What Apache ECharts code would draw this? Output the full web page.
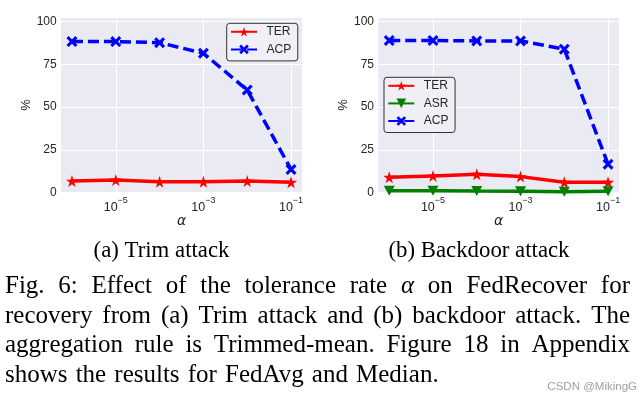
<!DOCTYPE html>
<html><head><meta charset="utf-8">
<script src="https://cdn.jsdelivr.net/npm/echarts@6/dist/echarts.min.js"></script>
<style>html,body{margin:0;padding:0;background:#fff}#c{width:643px;height:403px}</style>
</head><body><div id="c"></div>
<script>
// ---- data ----
const alphaExp = [-6, -5, -4, -3, -2, -1];          // log10(alpha)
const xTickExp = [-5, -3, -1];                       // tick labels 10^-5, 10^-3, 10^-1
const yTickStep = 25;
const trimTER = [6.8, 7.4, 6.4, 6.4, 6.8, 6.1];
const trimACP = [88.3, 88.3, 87.7, 81.5, 60.0, 13.6];
const bdTER = [9.0, 9.8, 10.8, 9.4, 6.1, 6.1];
const bdASR = [1.2, 1.2, 1.0, 0.9, 0.6, 0.9];
const bdACP = [88.9, 88.9, 88.7, 88.7, 83.9, 16.6];
const subCaptions = ['(a) Trim attack', '(b) Backdoor attack'];
const captionLines = [
  ['Fig.', '6:', 'Effect', 'of', 'the', 'tolerance', 'rate', '*α', 'on', 'FedRecover', 'for'],
  ['recovery', 'from', '(a)', 'Trim', 'attack', 'and', '(b)', 'backdoor', 'attack.', 'The'],
  ['aggregation', 'rule', 'is', 'Trimmed-mean.', 'Figure', '18', 'in', 'Appendix'],
  ['shows', 'the', 'results', 'for', 'FedAvg', 'and', 'Median.']
];
const watermark = 'CSDN @MikingG';

// ---- styling ----
const STAR = 'path://M50,0L61.2,34.5L97.6,34.5L68.2,55.9L79.4,90.5L50,69.1L20.6,90.5L31.8,55.9L2.4,34.5L38.8,34.5Z';
const XMARK = 'path://M2,0L5,3L8,0L10,2L7,5L10,8L8,10L5,7L2,10L0,8L3,5L0,2Z';
const TRI = 'path://M0,0L10,0L5,9Z';
const RED = '#ff0000', BLUE = '#0000ff', GREEN = '#008000';
const TXT = '#262626';
const SANS = '"Liberation Sans", Arial, sans-serif';
const SERIF = '"Liberation Serif", "Times New Roman", serif';

const pts = (ys) => alphaExp.map((e, i) => [e, ys[i]]);

function xAxisCfg(gi) {
  return {
    gridIndex: gi, type: 'value', min: -6.25, max: -0.75,
    axisLine: { show: false },
    axisTick: { show: false, customValues: xTickExp },
    axisLabel: {
      customValues: xTickExp, margin: 3, color: TXT,
      formatter: v => '{b|10}{s|\u2212' + (-v) + '}',
      rich: {
        b: { fontSize: 12.5, fontFamily: SANS, color: TXT },
        s: { fontSize: 9, fontFamily: SANS, color: TXT, padding: [0, 0, 14, 0] }
      }
    },
    splitLine: { show: true, lineStyle: { color: '#ffffff', width: 1.1 } },
    name: 'α', nameLocation: 'middle', nameGap: 20,
    nameTextStyle: { fontSize: 14, fontStyle: 'italic', fontFamily: '"DejaVu Sans", sans-serif', color: TXT }
  };
}
function yAxisCfg(gi) {
  return {
    gridIndex: gi, type: 'value', min: 0, max: 102.5, interval: yTickStep,
    axisLine: { show: false }, axisTick: { show: false },
    axisLabel: { showMaxLabel: false, fontSize: 12, fontFamily: SANS, color: TXT, margin: 4.3 },
    splitLine: { show: true, lineStyle: { color: '#ffffff', width: 1.1 } },
    name: '%', nameLocation: 'middle', nameGap: 28,
    nameTextStyle: { fontSize: 13, fontFamily: SANS, color: TXT }
  };
}
function lineSeries(name, gi, ys, color, symbol, size, dashed) {
  return {
    name, type: 'line', xAxisIndex: gi, yAxisIndex: gi, data: pts(ys),
    symbol, symbolSize: size, showAllSymbol: true, animation: false,
    itemStyle: { color },
    lineStyle: { color, width: 3.5, type: dashed ? [11, 5] : 'solid' },
    clip: false
  };
}
function legendCfg(names, left, top) {
  return {
    data: names, orient: 'vertical', left, top, selectedMode: false,
    itemWidth: 26, itemHeight: 12, itemGap: 5.6,
    padding: [2.5, 6.6, 5.5, 3.3],
    borderColor: '#333333', borderWidth: 1, borderRadius: 3,
    backgroundColor: 'rgba(240,240,246,0.85)',
    textStyle: { fontSize: 12, fontFamily: SANS, color: TXT, padding: [0, 0, 0, 4.5] }
  };
}

// ---- caption text (justified, placed word by word) ----
const mctx = document.createElement('canvas').getContext('2d');
function measure(word, font) { mctx.font = font; return mctx.measureText(word).width; }
const graphics = [];
const subSize = 22.8, subBase = 259;
const subCenters = [161.5, 479];
subCaptions.forEach((t, i) => {
  graphics.push({ type: 'text', silent: true, style: {
    text: t, x: subCenters[i], y: subBase - 0.3375 * subSize,
    font: subSize + 'px ' + SERIF, fill: '#000',
    align: 'center', verticalAlign: 'middle', textAlign: 'center', textVerticalAlign: 'middle' } });
});
const capSize = 25, capLeft = 5, capRight = 630;
const capBaselines = [295, 324.5, 354, 383.5];
captionLines.forEach((words, li) => {
  const items = words.map(w => {
    const italic = w.startsWith('*');
    const text = italic ? w.slice(1) : w;
    const font = (italic ? 'italic ' : '') + capSize + 'px ' + SERIF;
    return { text, font, w: measure(text, font) };
  });
  const total = items.reduce((a, b) => a + b.w, 0);
  const justify = li < captionLines.length - 1;
  const gap = justify ? (capRight - capLeft - total) / (items.length - 1) : measure(' ', capSize + 'px ' + SERIF) * 1.3;
  let x = capLeft;
  items.forEach(it => {
    graphics.push({ type: 'text', silent: true, style: {
      text: it.text, x, y: capBaselines[li] - 0.3375 * capSize, font: it.font, fill: '#000',
      align: 'left', verticalAlign: 'middle', textAlign: 'left', textVerticalAlign: 'middle' } });
    x += it.w + gap;
  });
});
graphics.push({ type: 'text', silent: true, style: {
  text: watermark, x: 637, y: 391 - 0.35 * 11.5, font: '11.5px ' + SANS, fill: '#a0a0a0',
  align: 'right', verticalAlign: 'middle', textAlign: 'right', textVerticalAlign: 'middle' } });

const chart = echarts.init(document.getElementById('c'), null, { renderer: 'canvas' });
chart.setOption({
  animation: false,
  backgroundColor: '#ffffff',
  grid: [
    { left: 61, top: 17.3, width: 241, height: 175.4, show: true, backgroundColor: '#EAEAF2', borderWidth: 0 },
    { left: 378.3, top: 17.3, width: 240.7, height: 175.4, show: true, backgroundColor: '#EAEAF2', borderWidth: 0 }
  ],
  xAxis: [xAxisCfg(0), xAxisCfg(1)],
  yAxis: [yAxisCfg(0), yAxisCfg(1)],
  legend: [legendCfg(['TER', 'ACP'], 226.7, 23.3), legendCfg(['TER', 'ASR', 'ACP'], 384, 77.3)],
  series: [
    lineSeries('TER', 0, trimTER, RED, STAR, [12, 12], false),
    lineSeries('ACP', 0, trimACP, BLUE, XMARK, [11, 11], true),
    lineSeries('TER', 1, bdTER, RED, STAR, [12, 12], false),
    lineSeries('ASR', 1, bdASR, GREEN, TRI, [11, 10], false),
    lineSeries('ACP', 1, bdACP, BLUE, XMARK, [11, 11], true)
  ],
  graphic: graphics
});
</script></body></html>
